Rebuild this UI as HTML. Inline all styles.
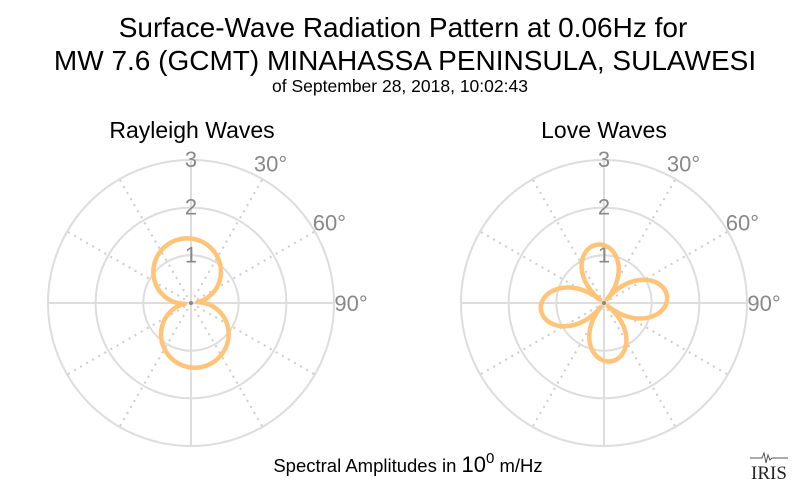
<!DOCTYPE html>
<html><head><meta charset="utf-8"><style>
html,body{margin:0;padding:0;background:#fff;}
svg{display:block;font-family:"Liberation Sans",sans-serif;}
</style></head><body>
<svg id="s" width="800" height="493" viewBox="0 0 800 493">
<text x="403" y="37" font-size="28" text-anchor="middle" fill="#000">Surface-Wave Radiation Pattern at 0.06Hz for</text>
<text x="405" y="70" font-size="28" text-anchor="middle" fill="#000">MW 7.6 (GCMT) MINAHASSA PENINSULA, SULAWESI</text>
<text x="400" y="92" font-size="17.5" text-anchor="middle" fill="#000">of September 28, 2018, 10:02:43</text>
<text x="192" y="138" font-size="23" text-anchor="middle" fill="#000">Rayleigh Waves</text>
<text x="604" y="138" font-size="23" text-anchor="middle" fill="#000">Love Waves</text>
<text x="408" y="472" font-size="18.5" text-anchor="middle" fill="#000">Spectral Amplitudes in <tspan font-size="22">10</tspan><tspan font-size="15" dy="-9">0</tspan><tspan dy="9"> m/Hz</tspan></text>
<g transform="translate(748,452)">
<path d="M2 6 L14 6 L16 1 L18 11 L20 3 L22 8 L24 6 L40 6" stroke="#555" stroke-width="1" fill="none"/>
<text x="21" y="27" font-family="Liberation Serif,serif" font-size="19" text-anchor="middle" fill="#222">IRIS</text>
</g>
<g id="g1"></g><g id="g2"></g>
</svg>
<script>
var NS="http://www.w3.org/2000/svg",S=47.7;
function el(p,t,a,txt){var e=document.createElementNS(NS,t);for(var k in a)e.setAttribute(k,a[k]);if(txt)e.textContent=txt;p.appendChild(e);return e;}
function polar(id,cx,cy,f){
 var g=document.getElementById(id);
 for(var a=0;a<360;a+=30){var r=a*Math.PI/180,sol=a%90==0;
  el(g,"line",{x1:cx,y1:cy,x2:cx+143*Math.sin(r),y2:cy-143*Math.cos(r),stroke:sol?"#ddd":"#ccc","stroke-width":2,"stroke-dasharray":sol?"none":"2,5"});}
 for(var i=1;i<=3;i++)el(g,"circle",{cx:cx,cy:cy,r:i==3?143:i*S,fill:"none",stroke:"#ddd","stroke-width":2});
 ["1","2","3"].forEach(function(t,i){el(g,"text",{x:cx,y:cy-(i+1)*S+7,"font-size":22,"text-anchor":"middle",fill:"#888"},t);});
 [[30,"30°"],[60,"60°"],[90,"90°"]].forEach(function(d){var r=d[0]*Math.PI/180,R=161;
  el(g,"text",{x:cx+R*Math.sin(r)-1,y:cy-R*Math.cos(r)+8,"font-size":22,"text-anchor":"middle",fill:"#888"},d[1]);});
 el(g,"circle",{cx:cx,cy:cy,r:2,fill:"#888"});
 var d="";for(var k=0;k<=720;k++){var th=k/2*Math.PI/180,rr=f(th)*S;d+=(k?"L":"M")+(cx+rr*Math.sin(th)).toFixed(2)+" "+(cy-rr*Math.cos(th)).toFixed(2);}
 el(g,"path",{d:d+"Z",fill:"none",stroke:"#ffc478","stroke-width":4.5,"stroke-linejoin":"round"});
}
var o=7*Math.PI/180;
polar("g1",191,303,function(t){return 1.23*Math.abs(Math.cos(t+o))+0.13;});
var o2=6*Math.PI/180;
polar("g2",604,303,function(t){return (1.13+0.1*Math.pow(Math.sin(t),2))*Math.pow(Math.abs(Math.cos(2*(t+o2))),0.8)+0.1;});
</script>
</body></html>
